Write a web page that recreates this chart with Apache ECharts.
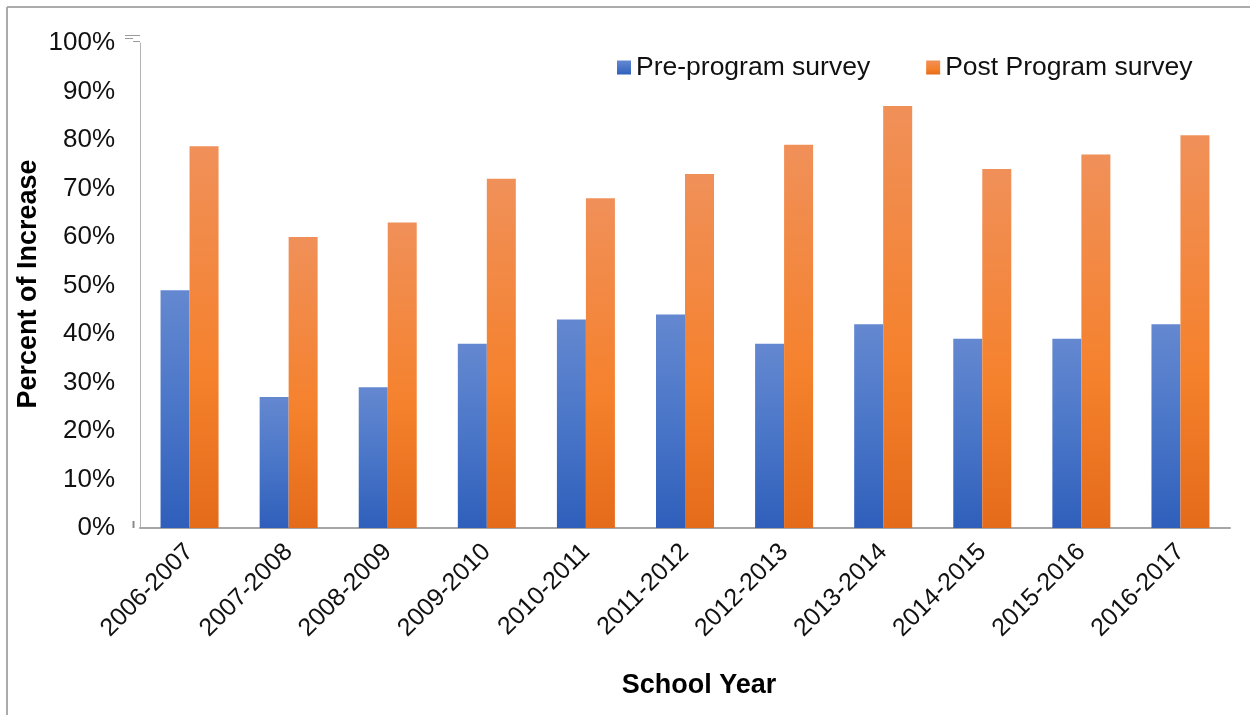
<!DOCTYPE html>
<html>
<head>
<meta charset="utf-8">
<script src="https://cdn.jsdelivr.net/npm/echarts@6/dist/echarts.min.js"></script>
<style>
html,body{margin:0;padding:0;background:#fff;}
#c{width:1250px;height:715px;}
</style>
</head>
<body>
<div id="c"></div>
<script>
const categories = ['2006-2007','2007-2008','2008-2009','2009-2010','2010-2011','2011-2012','2012-2013','2013-2014','2014-2015','2015-2016','2016-2017'];
const preProgram = [49, 27, 29, 38, 43, 44, 38, 42, 39, 39, 42];
const postProgram = [78.7, 60, 63, 72, 68, 73, 79, 87, 74, 77, 81];
const seriesNames = ['Pre-program survey', 'Post Program survey'];
const yTicks = [0,10,20,30,40,50,60,70,80,90,100];

const font = '"Liberation Sans", Arial, sans-serif';
const blueGrad = new echarts.graphic.LinearGradient(0,0,0,1,[
  {offset:0,color:'#6488d0'},{offset:0.5,color:'#4a76c8'},{offset:1,color:'#2f5fbb'}]);
const orangeGrad = new echarts.graphic.LinearGradient(0,0,0,1,[
  {offset:0,color:'#f09059'},{offset:0.6,color:'#f5812c'},{offset:1,color:'#e46b1a'}]);

const chart = echarts.init(document.getElementById('c'), null, {renderer:'canvas'});
chart.setOption({
  animation:false,
  backgroundColor:'#fff',
  textStyle:{fontFamily:font},
  grid:{left:140,right:20,top:43,bottom:187,containLabel:false},
  legend:{
    top:49, left:612,
    itemWidth:14, itemHeight:14, itemGap:56,
    icon:'rect',
    textStyle:{fontSize:26.5,color:'#111',fontFamily:font},
    data:seriesNames
  },
  xAxis:{
    type:'category', data:categories,
    axisLine:{lineStyle:{color:'#a6a6a6',width:2}},
    axisTick:{show:false},
    axisLabel:{rotate:45,fontSize:25,color:'#111',margin:20,fontFamily:font,interval:0}
  },
  yAxis:{
    type:'value', min:yTicks[0], max:yTicks[yTicks.length-1], interval:10,
    axisLine:{show:true,lineStyle:{color:'#b3b3b3',width:1}},
    axisTick:{show:false},
    splitLine:{show:false},
    axisLabel:{formatter:'{value}%',fontSize:26,color:'#111',margin:25,fontFamily:font}
  },
  graphic:[
    {type:'line',shape:{x1:7,y1:7,x2:1250,y2:7},style:{stroke:'#ababab',lineWidth:2}},
    {type:'line',shape:{x1:7,y1:7,x2:7,y2:715},style:{stroke:'#ababab',lineWidth:2}},
    {type:'line',shape:{x1:125,y1:35.5,x2:140,y2:35.5},style:{stroke:'#9a9a9a',lineWidth:1}},
    {type:'line',shape:{x1:125,y1:38.5,x2:133,y2:38.5},style:{stroke:'#9a9a9a',lineWidth:1}},
    {type:'line',shape:{x1:133,y1:41.5,x2:140,y2:41.5},style:{stroke:'#9a9a9a',lineWidth:1}},
    {type:'line',shape:{x1:133.5,y1:521,x2:133.5,y2:528},style:{stroke:'#8a8a8a',lineWidth:2}},
    {type:'text',x:699,y:686,style:{text:'School Year',font:'bold 27px '+font,fill:'#000',align:'center',verticalAlign:'middle'}},
    {type:'text',x:29,y:284,rotation:Math.PI/2,style:{text:'Percent of Increase',font:'bold 27px '+font,fill:'#000',align:'center',verticalAlign:'middle'}}
  ],
  series:[
    {name:seriesNames[0],type:'bar',data:preProgram,barWidth:29,barGap:'0%',itemStyle:{color:blueGrad}},
    {name:seriesNames[1],type:'bar',data:postProgram,barWidth:29,barGap:'0%',itemStyle:{color:orangeGrad}}
  ]
});
</script>
</body>
</html>
